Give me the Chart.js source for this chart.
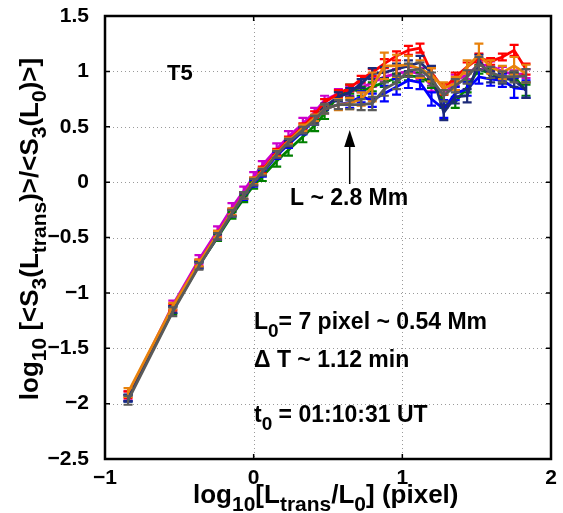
<!DOCTYPE html>
<html>
<head>
<meta charset="utf-8">
<script src="https://cdn.jsdelivr.net/npm/chart.js@4.4.1/dist/chart.umd.min.js"></script>
<style>
  html, body { margin: 0; padding: 0; background: #fff; }
</style>
</head>
<body>
<canvas id="chart" width="563" height="513"></canvas>
<script>
// log10(L_trans / L0)
const xs = [-0.845, -0.544, -0.368, -0.243, -0.146, -0.067, 0, 0.058, 0.155, 0.234, 0.331, 0.41, 0.477, 0.57, 0.646,
            0.723, 0.798, 0.879, 0.961, 1.041, 1.119, 1.196, 1.279, 1.356, 1.436, 1.515, 1.594, 1.673, 1.752, 1.832];

const redVals     = [-1.92,-1.13,-0.73,-0.47,-0.27,-0.12,0.01,0.11,0.27,0.38,0.50,0.61,0.72,0.80,0.85,0.93,0.99,1.07,1.14,1.19,1.21,0.99,0.84,0.95,1.04,1.12,1.09,1.13,1.19,1.02];
const orangeVals  = [-1.90,-1.12,-0.73,-0.47,-0.27,-0.12,0.01,0.10,0.26,0.37,0.49,0.58,0.66,0.70,0.71,0.75,0.86,1.05,1.05,1.06,1.02,0.97,0.85,0.89,1.04,1.15,1.04,0.99,1.05,0.98];
const magentaVals = [-1.93,-1.11,-0.70,-0.44,-0.23,-0.08,0.05,0.15,0.30,0.41,0.53,0.63,0.74,0.80,0.82,0.85,0.90,0.95,0.98,1.00,0.98,0.87,0.78,0.92,0.97,1.06,1.05,1.00,0.97,0.98];
const greenVals   = [-1.95,-1.16,-0.75,-0.50,-0.30,-0.15,-0.03,0.05,0.19,0.29,0.41,0.51,0.62,0.78,0.84,0.82,0.86,0.90,0.94,0.96,0.95,0.90,0.73,0.72,0.86,1.02,0.98,0.95,0.95,0.83];
const blueVals    = [-1.95,-1.15,-0.75,-0.49,-0.28,-0.13,-0.01,0.08,0.24,0.34,0.46,0.56,0.66,0.70,0.72,0.77,0.74,0.80,0.86,0.92,0.90,0.75,0.66,0.80,0.84,0.95,0.93,0.92,0.85,0.84];
const navyVals    = [-1.95,-1.15,-0.74,-0.48,-0.28,-0.12,0.00,0.09,0.25,0.35,0.47,0.57,0.68,0.77,0.81,0.89,0.98,0.99,1.02,1.05,1.08,0.99,0.63,0.77,0.78,1.10,0.95,0.94,0.92,0.83];
const grayVals    = [-1.97,-1.17,-0.76,-0.49,-0.28,-0.12,0.00,0.09,0.25,0.36,0.47,0.56,0.66,0.70,0.70,0.70,0.71,0.84,0.90,1.01,1.02,0.93,0.78,0.87,0.95,1.07,0.99,0.95,0.95,0.96];

const redErr     = [0.03,0.03,0.03,0.03,0.03,0.03,0.03,0.03,0.03,0.03,0.03,0.03,0.03,0.03,0.03,0.03,0.03,0.04,0.04,0.04,0.04,0.04,0.05,0.04,0.04,0.04,0.03,0.03,0.05,0.05];
const orangeErr  = [0.04,0.03,0.03,0.03,0.03,0.03,0.03,0.03,0.03,0.03,0.03,0.03,0.04,0.05,0.05,0.06,0.13,0.12,0.10,0.08,0.08,0.06,0.05,0.06,0.06,0.10,0.06,0.06,0.08,0.08];
const magentaErr = [0.04,0.04,0.04,0.04,0.04,0.04,0.04,0.04,0.05,0.05,0.05,0.04,0.04,0.04,0.04,0.04,0.04,0.04,0.04,0.04,0.05,0.05,0.05,0.05,0.04,0.04,0.04,0.04,0.04,0.04];
const greenErr   = [0.03,0.03,0.03,0.03,0.03,0.03,0.03,0.04,0.05,0.05,0.05,0.05,0.05,0.04,0.04,0.04,0.04,0.04,0.04,0.04,0.04,0.05,0.06,0.05,0.05,0.04,0.04,0.04,0.04,0.05];
const blueErr    = [0.03,0.03,0.03,0.03,0.03,0.03,0.03,0.03,0.03,0.03,0.03,0.04,0.04,0.04,0.05,0.05,0.06,0.07,0.07,0.07,0.06,0.06,0.08,0.06,0.06,0.06,0.06,0.06,0.09,0.08];
const navyErr    = [0.03,0.03,0.03,0.03,0.03,0.03,0.03,0.03,0.03,0.03,0.03,0.03,0.03,0.04,0.04,0.04,0.05,0.05,0.05,0.05,0.06,0.06,0.07,0.06,0.06,0.05,0.05,0.05,0.06,0.07];
const grayErr    = [0.04,0.04,0.03,0.03,0.03,0.03,0.03,0.03,0.03,0.03,0.03,0.04,0.04,0.04,0.04,0.05,0.06,0.06,0.06,0.06,0.06,0.06,0.05,0.06,0.06,0.06,0.05,0.05,0.05,0.06];

const xTicks = [-1, 0, 1, 2];
const yTicks = [-2.5, -2, -1.5, -1, -0.5, 0, 0.5, 1, 1.5];

const FONT = "'Liberation Sans', Arial, sans-serif";

function series(vals, errs, color) {
    return {
        data: xs.map((x, i) => ({x: x, y: vals[i]})),
        errs: errs,
        borderColor: color,
        backgroundColor: color,
        borderWidth: 2.8,
        pointRadius: 0,
        tension: 0
    };
}

// text with subscripts: parts = [[text, isSub], ...]
function richWidth(ctx, parts, size, subSize) {
    let w = 0;
    parts.forEach(([t, sub]) => {
        ctx.font = 'bold ' + (sub ? subSize : size) + 'px ' + FONT;
        w += ctx.measureText(t).width;
    });
    return w;
}
function drawRich(ctx, parts, x, y, size, subSize, shift) {
    parts.forEach(([t, sub]) => {
        ctx.font = 'bold ' + (sub ? subSize : size) + 'px ' + FONT;
        ctx.fillText(t, x, sub ? y + shift : y);
        x += ctx.measureText(t).width;
    });
}

const tickText = v => String(v).replace('-', '\u2212');

//error bars, drawn with each series so the stacking matches
const errorBars = {
    id: 'errorBars',
    afterDatasetDraw: (chart, args) => {
        const ds = chart.data.datasets[args.index];
        const {ctx, scales: {x, y}} = chart;
        ctx.save();
        ctx.strokeStyle = ds.borderColor;
        ctx.lineWidth = 2.2;
        ds.data.forEach((p, i) => {
            const px = x.getPixelForValue(p.x);
            const lo = y.getPixelForValue(p.y - ds.errs[i]);
            const hi = y.getPixelForValue(p.y + ds.errs[i]);
            ctx.beginPath();
            ctx.moveTo(px, lo); ctx.lineTo(px, hi);
            ctx.moveTo(px - 4.5, lo); ctx.lineTo(px + 4.5, lo);
            ctx.moveTo(px - 4.5, hi); ctx.lineTo(px + 4.5, hi);
            ctx.stroke();
        });
        ctx.restore();
    }
};

//dotted grid under the data
const dottedGrid = {
    id: 'dottedGrid',
    beforeDatasetsDraw: (chart) => {
        const {ctx, chartArea: {top, bottom, left, right}, scales: {x, y}} = chart;
        ctx.save();
        ctx.strokeStyle = '#9a9a9a';
        ctx.lineWidth = 1;
        ctx.setLineDash([1, 3]);
        xTicks.forEach(v => {
            const px = Math.round(x.getPixelForValue(v)) + 0.5;
            ctx.beginPath(); ctx.moveTo(px, top); ctx.lineTo(px, bottom); ctx.stroke();
        });
        yTicks.forEach(v => {
            const py = Math.round(y.getPixelForValue(v)) + 0.5;
            ctx.beginPath(); ctx.moveTo(left, py); ctx.lineTo(right, py); ctx.stroke();
        });
        ctx.restore();
    }
};

//box, inward ticks, titles and notes
const frameAndText = {
    id: 'frameAndText',
    afterDraw: (chart) => {
        const {ctx, chartArea: {top, bottom, left, right}, scales: {x, y}} = chart;
        ctx.save();
        ctx.strokeStyle = '#000';
        ctx.lineWidth = 2.5;
        ctx.strokeRect(left, top, right - left, bottom - top);
        ctx.lineWidth = 1.5;
        ctx.beginPath();
        xTicks.forEach(v => {
            const px = x.getPixelForValue(v);
            ctx.moveTo(px, bottom); ctx.lineTo(px, bottom - 5);
            ctx.moveTo(px, top); ctx.lineTo(px, top + 5);
        });
        yTicks.forEach(v => {
            const py = y.getPixelForValue(v);
            ctx.moveTo(left, py); ctx.lineTo(left + 5, py);
            ctx.moveTo(right, py); ctx.lineTo(right - 5, py);
        });
        ctx.stroke();

        ctx.fillStyle = '#000';
        ctx.textBaseline = 'alphabetic';
        ctx.textAlign = 'left';

        // x title
        const xt = [['log', 0], ['10', 1], ['[L', 0], ['trans', 1], ['/L', 0], ['0', 1], ['] (pixel)', 0]];
        drawRich(ctx, xt, 193, 503, 26, 21, 8);

        // y title
        const yt = [['log', 0], ['10', 1], [' [<S', 0], ['3', 1], ['(L', 0], ['trans', 1], [')>/<S', 0], ['3', 1], ['(L', 0], ['0', 1], [')>]', 0]];
        const yw = richWidth(ctx, yt, 26, 21);
        ctx.save();
        ctx.translate(38, 229);
        ctx.rotate(-Math.PI / 2);
        drawRich(ctx, yt, -yw / 2, 0, 26, 21, 8);
        ctx.restore();

        // notes
        drawRich(ctx, [['T5', 0]], 167, 80, 22, 16, 6);
        drawRich(ctx, [['L ~ 2.8 Mm', 0]], 290, 205, 23, 18, 7);
        drawRich(ctx, [['L', 0], ['0', 1], ['= 7 pixel ~ 0.54 Mm', 0]], 254, 329, 23, 19, 8);
        drawRich(ctx, [['\u0394 T ~ 1.12 min', 0]], 254, 367, 23, 19, 8);
        drawRich(ctx, [['t', 0], ['0', 1], [' = 01:10:31 UT', 0]], 254, 422, 23, 19, 8);

        // arrow to the break scale
        const ax = x.getPixelForValue(0.646);
        ctx.lineWidth = 1.5;
        ctx.beginPath();
        ctx.moveTo(ax, 184); ctx.lineTo(ax, 140);
        ctx.stroke();
        ctx.beginPath();
        ctx.moveTo(ax, 130); ctx.lineTo(ax - 5.5, 147); ctx.lineTo(ax + 5.5, 147);
        ctx.closePath();
        ctx.fill();
        ctx.restore();
    }
};

const ctx = document.getElementById('chart');

let structChart = new Chart(ctx, {
    type: 'line',
    data: {
        datasets: [
            series(grayVals, grayErr, '#5a5a5a'),
            series(orangeVals, orangeErr, '#e8820c'),
            series(navyVals, navyErr, '#1c2a78'),
            series(redVals, redErr, '#ff0000'),
            series(blueVals, blueErr, '#0000ff'),
            series(greenVals, greenErr, '#008000'),
            series(magentaVals, magentaErr, '#cc00cc')
        ]
    },
    options: {
        responsive: false,
        animation: false,
        layout: {
            padding: {top: 16, right: 12, left: 0, bottom: 0}
        },
        scales: {
            x: {
                type: 'linear',
                min: -1,
                max: 2,
                // fixed box; drop the label overhang Chart.js would add
                afterFit: s => { s.height = 54; s.paddingLeft = 0; s.paddingRight = 0; },
                afterBuildTicks: s => { s.ticks = xTicks.map(v => ({value: v})); },
                grid: {display: false, drawTicks: false},
                border: {display: false},
                ticks: {
                    color: '#000',
                    padding: 7,
                    maxRotation: 0,
                    callback: tickText,
                    font: {family: FONT, size: 21, weight: 'bold'}
                }
            },
            y: {
                min: -2.5,
                max: 1.5,
                afterFit: s => { s.width = 105; s.paddingTop = 0; s.paddingBottom = 0; },
                afterBuildTicks: s => { s.ticks = yTicks.map(v => ({value: v})); },
                grid: {display: false, drawTicks: false},
                border: {display: false},
                ticks: {
                    color: '#000',
                    padding: 16,
                    callback: tickText,
                    font: {family: FONT, size: 21, weight: 'bold'}
                }
            }
        },
        plugins: {
            legend: false,
            tooltip: {enabled: false}
        }
    },
    plugins: [dottedGrid, errorBars, frameAndText]
});
</script>
</body>
</html>
